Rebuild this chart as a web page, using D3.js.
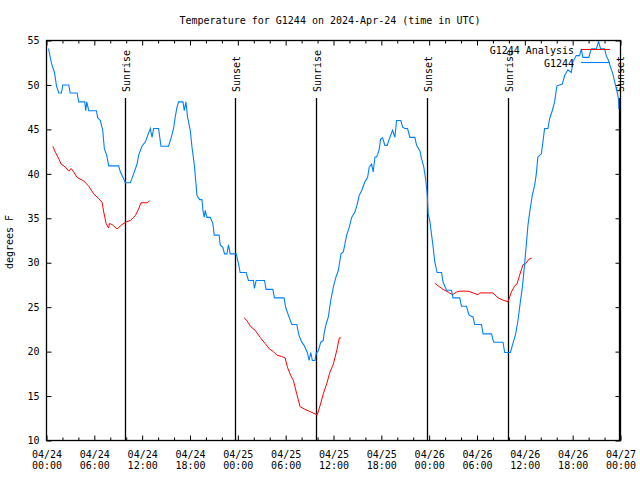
<!DOCTYPE html>
<html>
<head>
<meta charset="utf-8">
<script src="https://cdn.jsdelivr.net/npm/d3@7"></script>
<style>
  html, body { margin: 0; padding: 0; background: #fff; }
  svg { display: block; }
  text { font-family: "DejaVu Sans Mono", "Liberation Mono", monospace; font-size: 10px; fill: #000; }
</style>
</head>
<body>
<svg id="chart" width="640" height="480"></svg>
<script>
// ---------- DATA (hours since 2024-04-24 00:00 UTC) ----------
const startUTC = Date.UTC(2024, 3, 24, 0, 0);

const blueHours = [0.25,0.63,1.0,1.25,1.54,1.88,2.04,2.79,2.97,3.84,4.04,4.8,4.92,5.05,5.3,6.26,6.42,6.76,7.05,7.26,7.55,7.8,9.05,9.27,9.6,9.89,10.52,10.93,11.36,11.56,11.98,12.4,12.61,13.02,13.24,13.44,14.06,14.36,15.31,15.65,15.94,16.15,16.37,16.57,17.12,17.28,17.49,17.69,18.03,18.25,18.53,18.75,18.87,19.2,19.5,19.62,19.78,19.91,20.12,20.54,20.87,21.04,21.66,21.79,22.13,22.33,22.63,22.83,23.04,23.79,24.08,24.29,25.04,25.33,25.96,26.08,26.3,27.34,27.55,28.39,28.59,29.8,30.02,30.34,30.77,31.39,31.68,32.02,32.31,32.72,32.93,33.15,33.35,33.68,33.81,34.1,34.4,34.72,34.81,35.06,35.35,35.65,35.98,36.31,36.6,36.94,37.23,37.65,37.98,38.28,38.69,38.98,39.23,39.53,39.94,40.28,40.48,40.78,40.98,41.2,41.41,41.7,41.91,42.16,42.45,42.74,42.99,43.41,43.7,43.91,44.45,44.67,44.95,45.29,45.58,46.21,46.42,46.83,47.04,47.33,47.58,47.75,47.87,48.08,48.5,48.71,49.0,49.55,49.75,50.18,50.8,51.0,51.84,52.05,52.68,53.0,53.5,53.72,54.56,54.76,55.81,56.1,57.26,57.48,58.19,58.44,58.85,59.14,59.35,59.69,59.98,60.19,60.39,60.61,60.94,61.23,61.44,61.64,62.07,62.27,62.48,62.9,63.11,63.44,63.73,64.02,64.7,64.99,65.4,65.83,66.03,66.45,66.87,67.08,67.28,68.03,68.33,68.96,69.25,69.5,70.0,70.21,70.5,70.75,71.04,71.34,71.54,71.75,71.79];
const blueTemps = [54.1,52.4,51.4,49.9,49.1,49.1,50.0,50.0,49.1,49.1,48.1,48.1,47.1,48.1,47.1,47.1,46.3,46.0,44.9,42.8,42.1,40.9,40.9,40.2,39.6,39.0,39.0,40.0,41.1,42.1,43.1,43.6,44.1,45.1,44.1,45.1,45.1,43.1,43.1,44.1,45.1,46.4,47.5,48.1,48.1,47.1,48.1,46.4,44.9,43.0,41.1,38.9,37.6,37.1,37.1,35.9,35.1,35.9,35.1,35.1,34.4,33.1,33.1,32.0,31.7,31.0,31.0,32.0,31.0,31.0,29.9,28.9,28.9,28.0,28.0,27.1,28.0,28.0,27.0,27.0,26.05,26.05,24.9,24.1,23.05,23.05,21.8,21.06,20.7,19.9,19.0,19.9,19.0,19.0,19.75,20.1,21.06,21.25,22.0,23.05,23.9,25.75,27.25,28.4,29.1,31.0,31.2,33.1,34.0,35.1,35.7,36.6,37.6,38.1,39.1,39.6,40.75,41.1,40.2,41.9,41.9,42.6,43.9,44.05,43.2,43.2,43.9,44.9,44.1,46.0,46.0,45.25,45.1,45.1,44.1,44.1,43.2,42.6,41.7,40.75,39.25,37.75,35.5,34.7,31.75,30.06,28.9,28.9,27.8,26.9,26.9,26.05,26.05,25.1,25.1,24.1,23.9,23.05,23.05,22.0,22.0,21.06,21.06,19.9,19.9,20.7,22.0,23.5,25.0,27.25,29.9,32.1,34.2,35.7,37.6,38.7,40.0,41.9,42.25,43.6,45.1,45.1,46.2,47.1,48.06,49.9,50.1,51.06,51.7,51.4,52.6,53.3,53.3,54.06,53.1,53.1,54.06,54.06,54.9,54.06,54.06,53.3,52.75,52.0,51.25,50.1,49.4,48.4,47.3];

// Analysis series: null marks a gap between runs
const redHours = [0.79,1.13,1.54,1.84,2.38,2.79,3.09,3.42,3.84,4.67,5.3,5.92,6.55,6.97,7.18,7.48,7.8,7.89,8.23,8.85,9.48,10.02,10.52,11.14,11.56,11.86,12.68,12.94,
  null,
  24.79,25.13,25.63,26.17,26.8,27.43,27.96,28.46,28.89,29.51,29.93,30.22,30.64,30.97,31.39,31.81,32.43,33.06,33.68,33.97,34.31,34.72,35.15,35.56,35.98,36.4,36.73,36.94,
  null,
  48.71,49.12,49.75,50.38,50.93,51.43,51.84,52.88,53.51,54.13,54.34,56.01,56.64,57.26,57.89,58.31,58.73,59.01,59.35,59.77,60.11,60.52,60.86];
const redTemps = [43.1,42.4,41.7,41.1,40.75,40.3,40.6,40.2,39.6,39.2,38.6,37.75,37.2,36.8,35.7,34.4,33.9,34.4,34.3,33.8,34.3,34.6,34.75,35.3,36.06,36.75,36.75,37.0,
  null,
  23.8,23.5,22.8,22.4,21.6,20.9,20.3,20.0,19.6,19.45,19.3,18.25,17.3,16.75,15.25,13.8,13.5,13.25,13.0,12.9,13.9,15.25,16.4,17.7,18.6,20.1,21.55,21.55,
  null,
  27.7,27.4,27.0,26.7,26.4,26.7,26.8,26.8,26.6,26.4,26.6,26.6,26.05,25.8,25.6,26.7,27.4,27.6,28.6,29.8,29.9,30.4,30.5];

const sunHours  = [9.89, 23.67, 33.81, 47.71, 57.85, 71.75];
const sunLabels = ["Sunrise", "Sunset", "Sunrise", "Sunset", "Sunrise", "Sunset"];

const yTicks = [10, 15, 20, 25, 30, 35, 40, 45, 50, 55];
const titleText = "Temperature for G1244 on 2024-Apr-24 (time in UTC)";
const yLabel = "degrees F";
const legendNames = ["G1244 Analysis", "G1244"];

// ---------- CHART ----------
const toDate = h => new Date(startUTC + h * 3600e3);
const L = 46.5, R = 620.5, T = 40.5, B = 440.5;
const svg = d3.select("#chart");

const x = d3.scaleUtc().domain([toDate(0), toDate(72)]).range([L, R]);
const y = d3.scaleLinear().domain([10, 55]).range([B, T]);

const majorT = d3.range(0, 73, 6).map(toDate);
const minorT = d3.range(0, 73, 2).filter(h => h % 6 !== 0).map(toDate);

// bottom axes
const gb = svg.append("g").attr("transform", `translate(0,${B})`)
  .call(d3.axisBottom(x).tickValues(majorT).tickSize(-5).tickFormat(""));
gb.selectAll(".tick").each(function(d) {
  const t = d3.select(this).append("text").attr("text-anchor", "middle");
  t.append("tspan").attr("x", 0).attr("y", 17).text(d3.utcFormat("%m/%d")(d));
  t.append("tspan").attr("x", 0).attr("y", 28).text(d3.utcFormat("%H:%M")(d));
});
svg.append("g").attr("transform", `translate(0,${B})`)
  .call(d3.axisBottom(x).tickValues(minorT).tickSize(-3).tickFormat(""));
// top axes
svg.append("g").attr("transform", `translate(0,${T})`)
  .call(d3.axisTop(x).tickValues(majorT).tickSize(-5).tickFormat(""));
svg.append("g").attr("transform", `translate(0,${T})`)
  .call(d3.axisTop(x).tickValues(minorT).tickSize(-3).tickFormat(""));
// left / right axes
const gl = svg.append("g").attr("transform", `translate(${L},0)`)
  .call(d3.axisLeft(y).tickValues(yTicks).tickSize(-5).tickPadding(7).tickFormat(d3.format("d")));
gl.selectAll("text").style("font-size", "10px").style("font-family", null);
svg.append("g").attr("transform", `translate(${R},0)`)
  .call(d3.axisRight(y).tickValues(yTicks).tickSize(-5).tickFormat(""));

svg.selectAll(".domain").remove();
svg.selectAll(".tick line").attr("stroke", "#000").attr("stroke-width", 1);
gb.selectAll("text").attr("font-family", null).attr("font-size", null);

// sunrise / sunset
sunHours.forEach((h, i) => {
  const px = Math.round(x(toDate(h))) + 0.5;
  svg.append("line").attr("x1", px).attr("x2", px).attr("y1", 98).attr("y2", B)
    .attr("stroke", "#000").attr("stroke-width", 1.3);
  svg.append("text").attr("transform", `translate(${px + 4},92) rotate(-90)`)
    .attr("text-anchor", "start").text(sunLabels[i]);
});

// series
const blueData = blueHours.map((h, i) => ({ d: toDate(h), t: blueTemps[i] }));
const redData = redHours.map((h, i) => ({ d: h == null ? null : toDate(h), t: redTemps[i] }));
const line = d3.line().defined(p => p.t != null).x(p => x(p.d)).y(p => y(p.t));

svg.append("path").datum(redData).attr("d", line)
  .attr("fill", "none").attr("stroke", "#ff0000").attr("stroke-width", 1);
svg.append("path").datum(blueData).attr("d", line)
  .attr("fill", "none").attr("stroke", "#0080ff").attr("stroke-width", 1.1);

// frame
svg.append("rect").attr("x", L).attr("y", T).attr("width", R - L).attr("height", B - T)
  .attr("fill", "none").attr("stroke", "#000").attr("stroke-width", 1.3);

// title & labels
svg.append("text").attr("x", 330).attr("y", 24).attr("text-anchor", "middle").text(titleText);
svg.append("text").attr("transform", "translate(13,242) rotate(-90)")
  .attr("text-anchor", "middle").text(yLabel);

// legend
const legColors = ["#ff0000", "#0080ff"];
legendNames.forEach((n, i) => {
  const ly = 50 + i * 13;
  svg.append("text").attr("x", 574).attr("y", ly + 4).attr("text-anchor", "end").text(n);
  svg.append("line").attr("x1", 581).attr("x2", 610).attr("y1", ly - 0.5).attr("y2", ly - 0.5)
    .attr("stroke", legColors[i]).attr("stroke-width", i === 0 ? 1 : 1.1);
});
</script>
</body>
</html>
